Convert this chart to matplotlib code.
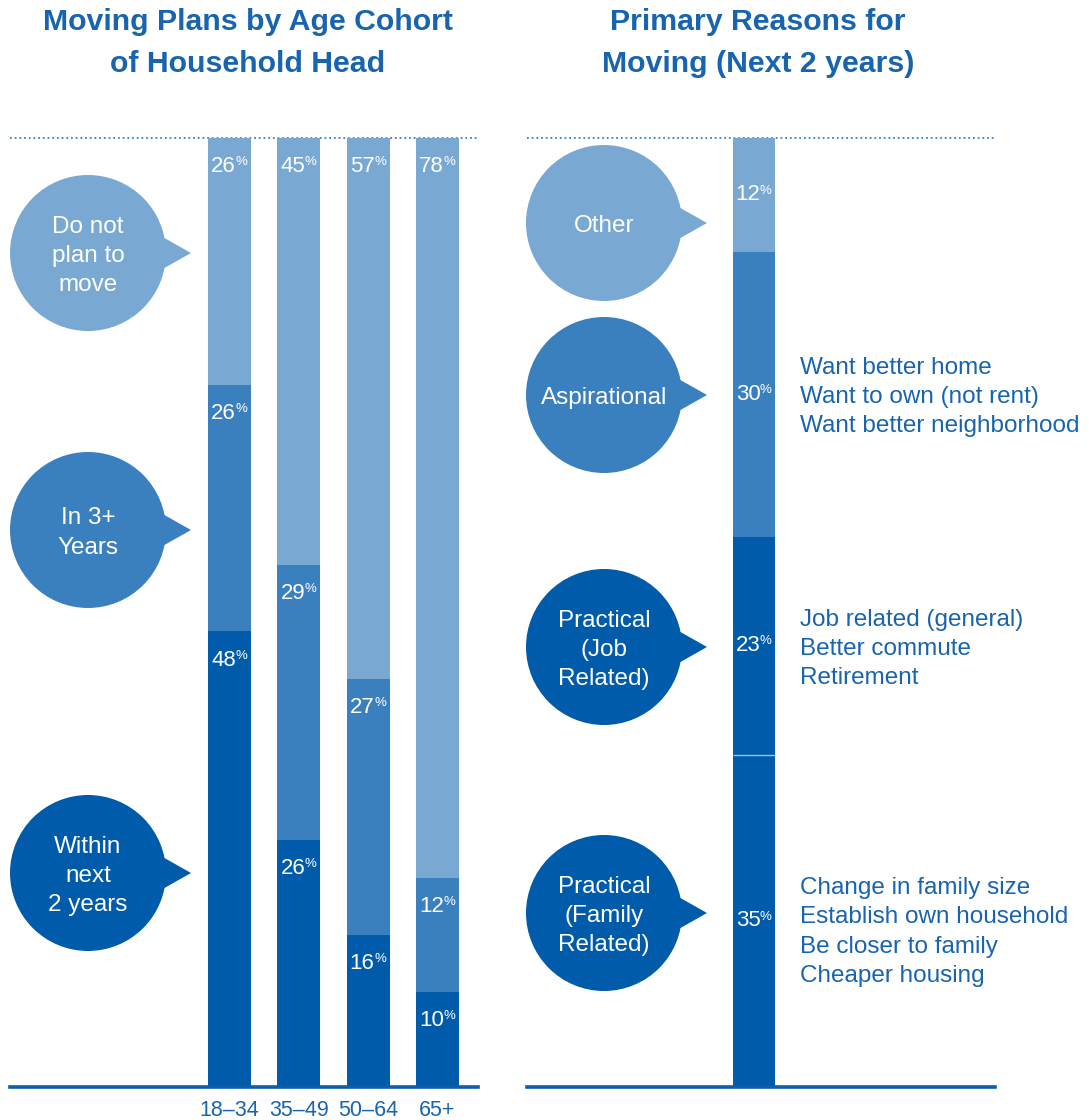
"""
Moving plans by age cohort and primary reasons for moving,
drawn as two stacked-bar panels with speech-bubble labels.
"""

import numpy as np
import matplotlib.pyplot as plt
from matplotlib.patches import Circle, Polygon

plt.rcParams['font.family'] = ['Liberation Sans', 'DejaVu Sans']

# moving plans by age cohort of household head (%)
cohorts = ['18–34', '35–49', '50–64', '65+']
within_2yrs = [48, 26, 16, 10]
in_3plus = [26, 29, 27, 12]
no_plans = [26, 45, 57, 78]
plan_names = ['Within\nnext\n2 years', 'In 3+\nYears', 'Do not\nplan to\nmove']

# primary reasons for moving in the next 2 years (%), bottom to top
reason_names = ['Practical\n(Family\nRelated)', 'Practical\n(Job\nRelated)', 'Aspirational', 'Other']
reason_share = [35, 23, 30, 12]
reason_details = [
    'Change in family size\nEstablish own household\nBe closer to family\nCheaper housing',
    'Job related (general)\nBetter commute\nRetirement',
    'Want better home\nWant to own (not rent)\nWant better neighborhood',
    '',
]

LIGHT = '#79a9d3'
MID = '#3b80be'
DARK = '#005baa'
TXT = '#1864af'

W, H = 1089, 1120
fig = plt.figure(figsize=(W / 100, H / 100), dpi=100)


def box(x0, y0, x1, y1):
    return [x0 / W, 1 - y1 / H, (x1 - x0) / W, (y1 - y0) / H]


# overlay in pixel units for the bubbles
ov = fig.add_axes([0, 0, 1, 1])
ov.set_xlim(0, W)
ov.set_ylim(H, 0)
ov.axis('off')


def bubble(cx, cy, color, text):
    ov.add_patch(Circle((cx, cy), 78, color=color, lw=0))
    ov.add_patch(Polygon([(cx + 64, cy - 22), (cx + 103, cy), (cx + 64, cy + 22)],
                         closed=True, color=color, lw=0))
    ov.text(cx, cy + 3, text, color='white', fontsize=17.5, ha='center', va='center',
            linespacing=1.42)


def pct(ax, x, y, v, dy):
    # number plus a small raised percent sign, centred as a pair
    ax.annotate(str(v), (x, y), xytext=(4.6, dy), textcoords='offset points',
                ha='right', va='baseline', color='white', fontsize=16, zorder=4)
    ax.annotate('%', (x, y), xytext=(4.3, dy + 5), textcoords='offset points',
                ha='left', va='baseline', color='white', fontsize=9.5, zorder=4)


def frame(ax):
    ax.set_ylim(0, 100)
    for s in ax.spines.values():
        s.set_visible(False)
    ax.set_yticks([])
    ax.axhline(100, color=MID, lw=1.3, ls=(0, (1, 1.6)), clip_on=False, zorder=0)
    ax.axhline(0, color='#0c5daa', lw=2.6, clip_on=False, zorder=3)


# left panel: stacked bars per cohort
ax1 = fig.add_axes(box(10, 138, 478, 1087))
ax1.set_facecolor('none')
x = np.arange(len(cohorts))
bw = 0.62
segs = [(within_2yrs, DARK), (in_3plus, MID), (no_plans, LIGHT)]
bottom = np.zeros(len(cohorts))
for vals, col in segs:
    ax1.bar(x, vals, bw, bottom=bottom, color=col, lw=0, zorder=2)
    for i, v in enumerate(vals):
        pct(ax1, x[i], bottom[i] + v, v, -24.5)
    bottom += np.array(vals)
ax1.set_xlim(-3.166, 3.584)
frame(ax1)
ax1.set_xticks(x)
ax1.set_xticklabels(cohorts, color=TXT, fontsize=15.5)
ax1.tick_params(axis='x', length=0, pad=9)

for name, col, cy in zip(plan_names, [DARK, MID, LIGHT], [873, 530, 253]):
    bubble(88, cy, col, name)

# right panel: one stacked bar of reasons
ax2 = fig.add_axes(box(527, 138, 995, 1087))
ax2.set_facecolor('none')
reason_colors = [DARK, DARK, MID, LIGHT]
base = 0
for v, col in zip(reason_share, reason_colors):
    ax2.bar(0, v, bw, bottom=base, color=col, lw=0, zorder=2)
    pct(ax2, 0, base + v / 2, v, -4)
    base += v
ax2.hlines(reason_share[0], -bw / 2, bw / 2, color='#9cc3e6', lw=1, zorder=3)
ax2.set_xlim(-3.274, 3.476)
frame(ax2)
ax2.set_xticks([])

for name, col, cy in zip(reason_names, reason_colors, [913, 647, 395, 223]):
    bubble(604, cy, col, name)
for det, cy in zip(reason_details, [932, 649, 397, 0]):
    if det:
        ov.text(800, cy, det, color=TXT, fontsize=17.5, ha='left', va='center',
                linespacing=1.42)

# panel titles
fig.text(247.5 / W, 1 - 43 / H, 'Moving Plans by Age Cohort\nof Household Head',
         ha='center', va='center', fontsize=21.8, fontweight='bold', color=TXT,
         linespacing=1.66)
fig.text(758 / W, 1 - 43 / H, 'Primary Reasons for\nMoving (Next 2 years)',
         ha='center', va='center', fontsize=21.8, fontweight='bold', color=TXT,
         linespacing=1.66)

fig.savefig('out.png', dpi=100)
